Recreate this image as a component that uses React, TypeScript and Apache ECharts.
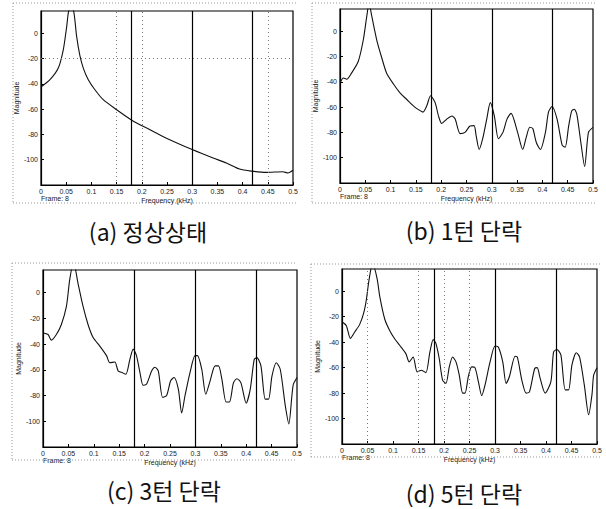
import React, { useEffect, useRef } from "react";
import * as echarts from "echarts";

const verticalMarks = [0.18, 0.3, 0.42];
const captions = ["(a) 정상상태", "(b) 1턴 단락", "(c) 3턴 단락", "(d) 5턴 단락"];
const xLabelName = "Frequency (kHz)";
const yLabelName = "Magnitude";
const frameLabel = "Frame: 8";

const freqA = [0, 0.0178, 0.0343, 0.0443, 0.0509, 0.0542, 0.059, 0.0654, 0.0707, 0.0773, 0.0839, 0.0938, 0.107, 0.1235, 0.15, 0.181, 0.216, 0.249, 0.3, 0.3415, 0.368, 0.394, 0.4174, 0.447, 0.48, 0.49, 0.5];
const magA = [-42.6, -36.8, -27.6, -13, 5, 16, 24, 16, -2.6, -18, -27.6, -36.8, -44.7, -52.6, -60.5, -69, -76.3, -83, -92, -98.7, -102.6, -107.4, -109, -110, -109.5, -110.5, -108.4];

const freqB = [0, 0.0066, 0.0132, 0.023, 0.036, 0.046, 0.053, 0.0574, 0.0627, 0.0726, 0.0825, 0.092, 0.106, 0.119, 0.132, 0.145, 0.155, 0.164, 0.1715, 0.179, 0.188, 0.1946, 0.201, 0.211, 0.221, 0.2276, 0.2375, 0.247, 0.257, 0.265, 0.269, 0.275, 0.282, 0.29, 0.297, 0.305, 0.313, 0.322, 0.33, 0.338, 0.351, 0.361, 0.368, 0.375, 0.381, 0.388, 0.396, 0.406, 0.412, 0.419, 0.429, 0.439, 0.445, 0.452, 0.458, 0.463, 0.468, 0.476, 0.4835, 0.491, 0.5];
const magB = [-41, -37, -38, -33, -24, -7, 12, 22, 12, -7, -21, -33, -42, -49, -54, -59, -62, -64, -59, -51, -56.5, -67, -73, -69.5, -67, -69.5, -81, -80, -75, -74.7, -82.5, -93.5, -85, -69.5, -56.5, -67, -85, -80, -69.5, -65, -80, -93.5, -84, -76, -77, -88, -93.5, -80, -64, -59.6, -69.5, -90, -91.7, -74.7, -63, -61.7, -65.6, -88, -107, -80, -76];

const freqC = [0, 0.0099, 0.0164, 0.0263, 0.036, 0.046, 0.0526, 0.06, 0.069, 0.079, 0.0888, 0.0987, 0.1118, 0.125, 0.1316, 0.1414, 0.148, 0.1546, 0.163, 0.171, 0.1776, 0.184, 0.1908, 0.197, 0.204, 0.2138, 0.2204, 0.227, 0.2355, 0.2434, 0.2513, 0.258, 0.2664, 0.273, 0.2796, 0.2895, 0.2993, 0.304, 0.3125, 0.3204, 0.329, 0.3388, 0.3454, 0.352, 0.3605, 0.367, 0.375, 0.3816, 0.3895, 0.4, 0.408, 0.4158, 0.421, 0.429, 0.4375, 0.444, 0.4507, 0.4592, 0.467, 0.477, 0.484, 0.49, 0.493, 0.5];
const magC = [-31.4, -32.6, -37, -32.6, -25, -11, 10, 24, 7, -11, -25, -35, -41.6, -49, -54.5, -54, -61, -62, -63.5, -52, -44, -49, -62, -72, -71, -61, -58, -61, -81.5, -80, -68.6, -66, -75, -93.6, -80, -62, -49, -49, -59.6, -79, -68.6, -57, -57, -67, -85, -85, -70, -67, -70, -86, -75, -52, -50.6, -57, -82.8, -82.8, -65, -54.5, -59.6, -88, -102, -80, -71, -66];

const freqD = [0, 0.0085, 0.0164, 0.0249, 0.0347, 0.0426, 0.0478, 0.053, 0.06, 0.0688, 0.074, 0.0839, 0.0937, 0.1035, 0.1134, 0.1252, 0.1317, 0.1396, 0.1474, 0.1559, 0.1645, 0.1723, 0.1789, 0.1841, 0.1907, 0.1972, 0.2038, 0.2104, 0.2169, 0.2235, 0.23, 0.2366, 0.2412, 0.2477, 0.2543, 0.2608, 0.2674, 0.274, 0.2805, 0.2903, 0.3001, 0.3067, 0.3152, 0.3218, 0.3283, 0.3394, 0.344, 0.3526, 0.3611, 0.3676, 0.3778, 0.3827, 0.3886, 0.3984, 0.4096, 0.4148, 0.4214, 0.4292, 0.4377, 0.4443, 0.4508, 0.4594, 0.4659, 0.4751, 0.4836, 0.4902, 0.4934, 0.5];
const magD = [-24, -27, -37, -32, -26, -17, -6.5, 9, 22, 10, -4, -22, -31, -37.5, -42.6, -49, -55.5, -51.7, -63.3, -62, -64, -47.8, -38, -41, -53, -69.8, -72.4, -59.4, -51.7, -55.5, -66, -80, -80, -67, -59.4, -60, -71, -82, -73.6, -55.5, -43, -44, -55.5, -72.4, -67, -51, -52, -69.8, -80, -79, -60.7, -60, -68.5, -80, -71, -47.8, -45.7, -50, -77.5, -77.5, -58, -48.3, -51.7, -73.6, -97, -81, -66, -60];

const dottedX = [[0.15, 0.2, 0.45], [], [], [0.05, 0.15, 0.2, 0.25]];
const dottedY = [[-20], [], [], []];

const freqs = [freqA, freqB, freqC, freqD];
const mags = [magA, magB, magC, magD];

const grids = [
  { left: 41, top: 11, width: 252, height: 174 },
  { left: 340, top: 9, width: 253, height: 174 },
  { left: 43, top: 270, width: 254, height: 177 },
  { left: 342, top: 269, width: 255, height: 175 },
];
const captionPos = [
  [148, 231],
  [464, 230],
  [164, 490],
  [464, 493],
];
const frames = [
  [13, 3, 297, 203],
  [312, 3, 597, 203],
  [12, 263, 297, 460],
  [311, 264, 602, 457],
];

const tickFont = "Liberation Sans";

export default function App() {
  const ref = useRef<HTMLDivElement>(null);
  useEffect(() => {
    if (!ref.current) return;
    const chart = echarts.init(ref.current, null, { renderer: "svg" });
    const graphic: any[] = [];
    captions.forEach((c, i) => {
      graphic.push({
        type: "text",
        x: captionPos[i][0],
        y: captionPos[i][1],
        style: {
          text: c,
          fontSize: 23,
          fontFamily: "Noto Sans CJK KR",
          fill: "#111",
          textAlign: "center",
          verticalAlign: "middle",
        },
      });
      const g = grids[i];
      graphic.push({
        type: "text",
        x: g.left,
        y: g.top + g.height + 13,
        style: {
          text: frameLabel,
          fontSize: 7,
          fontFamily: tickFont,
          fill: "#222",
          textAlign: "left",
          verticalAlign: "middle",
        },
      });
      const f = frames[i];
      const dotStyle = { stroke: "#999", lineWidth: 1, lineDash: [1, 2] };
      graphic.push({ type: "line", shape: { x1: f[0], y1: f[1], x2: f[0], y2: f[3] }, style: dotStyle });
      graphic.push({ type: "line", shape: { x1: f[0], y1: f[3], x2: f[2], y2: f[3] }, style: dotStyle });
      graphic.push({ type: "line", shape: { x1: f[0], y1: f[1], x2: f[2], y2: f[1] }, style: dotStyle });
    });

    const option: any = {
      animation: false,
      backgroundColor: "#fff",
      grid: grids.map((g) => ({
        ...g,
        show: true,
        borderColor: "#000",
        borderWidth: 1.2,
        backgroundColor: "transparent",
        containLabel: false,
      })),
      xAxis: grids.map((_, i) => ({
        type: "value",
        gridIndex: i,
        min: 0,
        max: 0.5,
        interval: 0.05,
        name: xLabelName,
        nameLocation: "middle",
        nameGap: 12,
        nameTextStyle: { fontSize: 7, fontFamily: tickFont, color: "#222" },
        axisLine: { show: true, onZero: false, lineStyle: { color: "#000", width: 1.2 } },
        axisTick: { show: true, inside: true, length: 3, lineStyle: { color: "#000" } },
        axisLabel: {
          fontSize: 7,
          fontFamily: tickFont,
          color: "#222",
          margin: 3,
          formatter: (v: number) => String(parseFloat(v.toFixed(2))),
        },
        splitLine: { show: false },
      })),
      yAxis: grids.map((_, i) => ({
        type: "value",
        gridIndex: i,
        min: -120,
        max: 17.5,
        interval: 20,
        name: yLabelName,
        nameLocation: "middle",
        nameGap: 19,
        nameRotate: 90,
        nameTextStyle: { fontSize: 7, fontFamily: tickFont, color: "#222" },
        axisLine: { show: true, onZero: false, lineStyle: { color: "#000", width: 1.2 } },
        axisTick: { show: true, inside: true, length: 3, lineStyle: { color: "#000" } },
        axisLabel: {
          fontSize: 7,
          fontFamily: tickFont,
          color: "#222",
          margin: 3,
          showMaxLabel: false,
          formatter: (v: number) => (v < -110 || v > 1 ? "" : String(Math.round(v))),
        },
        splitLine: { show: false },
      })),
      series: grids.map((_, i) => ({
        type: "line",
        xAxisIndex: i,
        yAxisIndex: i,
        data: freqs[i].map((x, k) => [x, mags[i][k]]),
        showSymbol: false,
        symbol: "none",
        smooth: 0.25,
        clip: true,
        lineStyle: { color: "#111", width: 1.1 },
        markLine: {
          silent: true,
          symbol: ["none", "none"],
          label: { show: false },
          animation: false,
          data: [
            ...verticalMarks.map((v) => ({ xAxis: v, lineStyle: { type: "solid", color: "#000", width: 1.2 } })),
            ...dottedX[i].map((v) => ({ xAxis: v, lineStyle: { type: [1, 3], color: "#777", width: 1 } })),
            ...dottedY[i].map((v) => ({ yAxis: v, lineStyle: { type: [1, 3], color: "#777", width: 1 } })),
          ],
        },
      })),
      graphic,
    };
    chart.setOption(option);
    return () => chart.dispose();
  }, []);
  return <div ref={ref} style={{ position: "absolute", left: 0, top: 0, width: 606, height: 509 }} />;
}
